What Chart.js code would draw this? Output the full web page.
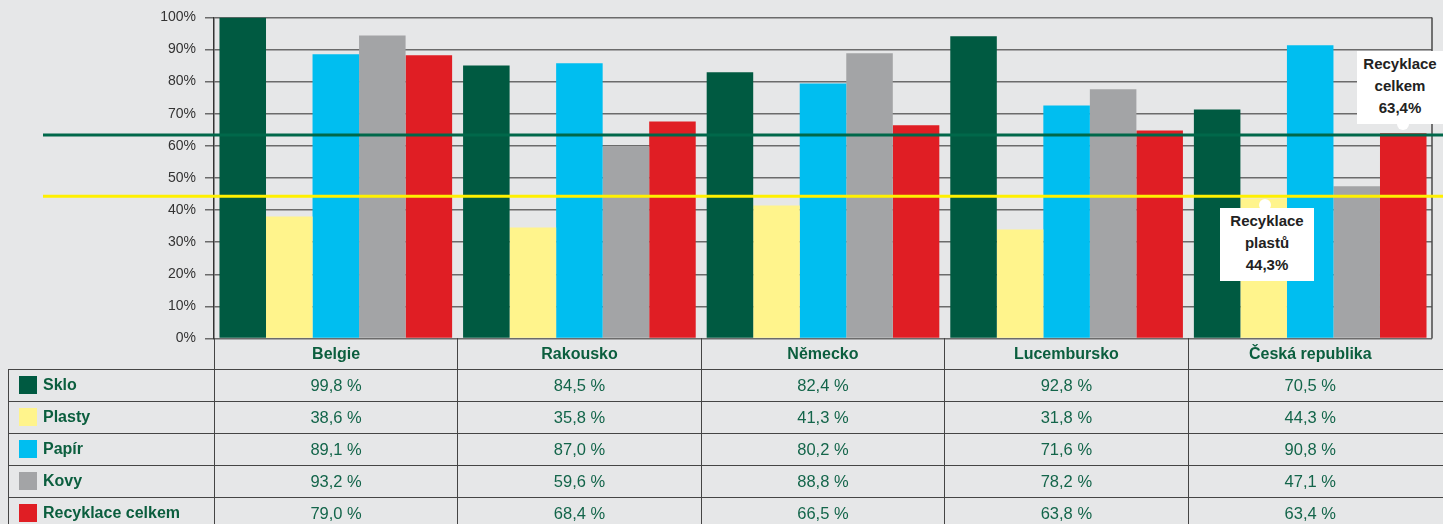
<!DOCTYPE html>
<html>
<head>
<meta charset="utf-8">
<script src="https://cdn.jsdelivr.net/npm/chart.js@4/dist/chart.umd.min.js"></script>
<style>
  html, body { margin: 0; padding: 0; background: #e6e7e8; width: 1443px; height: 524px; overflow: hidden; }
  body { position: relative; font-family: 'Liberation Sans', Arial, sans-serif; }
  #wrap { position: absolute; left: 0; top: 0; width: 1443px; height: 356px; }
  #tbl { position: absolute; left: 8px; top: 338px; border-collapse: collapse; table-layout: fixed; color: #13654a; font-size: 16.5px; }
  #tbl td { height: 31px; padding: 0; text-align: center; border: 1.5px solid #454545; }
  #tbl tr.head td { font-weight: bold; font-size: 16px; color: #0b5e3e; border-top: none; }
  #tbl tr.head td.blank { border: none; border-right: 1.5px solid #454545; }
  #tbl td.last { border-right: none; padding-right: 11px; }
  #tbl td.lab { text-align: left; font-weight: bold; font-size: 16px; color: #0b5e3e; padding-left: 10px; }
  .sw { display: inline-block; width: 18px; height: 18px; vertical-align: middle; margin-right: 6px; position: relative; top: -1px; }
  .note { position: absolute; background: #fff; color: #222; font-weight: bold; font-size: 15px; line-height: 22px; text-align: center; }
  .dot { position: absolute; width: 12px; height: 12px; border-radius: 6px; background: #fff; }
</style>
</head>
<body>
<div id="wrap"><canvas id="chart" width="1443" height="356"></canvas></div>
<table id="tbl"></table>
<div class="dot" style="left:1259px; top:199px;"></div>
<div class="note" style="left:1220px; top:208px; width:94px; height:71px; padding-top:2px;">Recyklace<br>plastů<br>44,3%</div>
<div class="dot" style="left:1397px; top:118px;"></div>
<div class="note" style="left:1357px; top:51px; width:86px; height:71px; padding-top:2px;">Recyklace<br>celkem<br>63,4%</div>
<script>
// categories (countries)
const countries = ['Belgie', 'Rakousko', 'Německo', 'Lucembursko', 'Česká republika'];

// bar heights as drawn in the picture (%)
const skloBars    = [100.0, 85.0, 82.9, 94.1, 71.3];
const plastyBars  = [38.0, 34.6, 41.4, 34.0, 43.6];
const papirBars   = [88.5, 85.7, 79.4, 72.6, 91.3];
const kovyBars    = [94.4, 59.8, 88.8, 77.6, 47.4];
const celkemBars  = [88.2, 67.6, 66.4, 64.8, 63.9];

// values printed in the table below the chart
const skloText   = ['99,8 %', '84,5 %', '82,4 %', '92,8 %', '70,5 %'];
const plastyText = ['38,6 %', '35,8 %', '41,3 %', '31,8 %', '44,3 %'];
const papirText  = ['89,1 %', '87,0 %', '80,2 %', '71,6 %', '90,8 %'];
const kovyText   = ['93,2 %', '59,6 %', '88,8 %', '78,2 %', '47,1 %'];
const celkemText = ['79,0 %', '68,4 %', '66,5 %', '63,8 %', '63,4 %'];

// y axis ticks
const yTicks = [0, 10, 20, 30, 40, 50, 60, 70, 80, 90, 100];

// reference lines (Czech republic averages)
const lineCelkem = 63.4;
const linePlasty = 44.3;

const series = [
    { label: 'Sklo', data: skloBars, text: skloText, color: '#005a41' },
    { label: 'Plasty', data: plastyBars, text: plastyText, color: '#fff48c' },
    { label: 'Papír', data: papirBars, text: papirText, color: '#00bef0' },
    { label: 'Kovy', data: kovyBars, text: kovyText, color: '#a3a4a6' },
    { label: 'Recyklace celkem', data: celkemBars, text: celkemText, color: '#e01e24' }
];

// build the table under the chart
function fnBuildTable(){
    const tbl = document.getElementById('tbl');
    let html = '<colgroup><col style="width:206px">';
    countries.forEach((c, i) => {
        html += '<col style="width:' + (i === countries.length - 1 ? 255 : 243.6) + 'px">';
    });
    html += '</colgroup>';
    html += '<tr class="head"><td class="blank"></td>';
    countries.forEach((c, i) => {
        html += '<td' + (i === countries.length - 1 ? ' class="last"' : '') + '>' + c + '</td>';
    });
    html += '</tr>';
    series.forEach(s => {
        html += '<tr><td class="lab"><span class="sw" style="background:' + s.color + '"></span>' + s.label + '</td>';
        s.text.forEach((t, i) => {
            html += '<td' + (i === s.text.length - 1 ? ' class="last"' : '') + '>' + t + '</td>';
        });
        html += '</tr>';
    });
    tbl.innerHTML = html;
}

// reference lines + right border
const refLines = {
    id: 'refLines',
    afterDatasetsDraw(chart) {
        const ctx = chart.ctx;
        const y = chart.scales.y;
        const a = chart.chartArea;
        ctx.save();
        ctx.strokeStyle = '#4a4a4a';
        ctx.lineWidth = 1.5;
        ctx.beginPath();
        ctx.moveTo(a.right, a.top);
        ctx.lineTo(a.right, a.bottom);
        ctx.stroke();
        ctx.lineWidth = 3;
        ctx.strokeStyle = '#00684a';
        ctx.beginPath();
        ctx.moveTo(43, y.getPixelForValue(lineCelkem));
        ctx.lineTo(chart.width, y.getPixelForValue(lineCelkem));
        ctx.stroke();
        ctx.strokeStyle = '#fff000';
        ctx.beginPath();
        ctx.moveTo(43, y.getPixelForValue(linePlasty));
        ctx.lineTo(chart.width, y.getPixelForValue(linePlasty));
        ctx.stroke();
        ctx.restore();
    }
};

function fnRecycleChart(){
    const ctx = document.getElementById('chart').getContext('2d');
    new Chart(ctx, {
        type: 'bar',
        data: {
            labels: countries,
            datasets: series.map(s => ({
                label: s.label,
                data: s.data,
                backgroundColor: s.color,
                borderWidth: 0,
                categoryPercentage: 0.955,
                barPercentage: 1.0
            }))
        },
        options: {
            responsive: false,
            animation: false,
            layout: { padding: { top: 17, right: 11, bottom: 2, left: 0 } },
            plugins: {
                legend: { display: false },
                tooltip: { enabled: false }
            },
            scales: {
                x: { display: false },
                y: {
                    min: 0,
                    max: 100,
                    afterFit: function(scale) { scale.width = 214; },
                    afterBuildTicks: function(scale) {
                        scale.ticks = yTicks.map(v => ({ value: v }));
                    },
                    ticks: {
                        padding: 9,
                        color: '#333',
                        font: { family: "'Liberation Sans', Arial", size: 14 },
                        callback: function(value) { return value + '%'; }
                    },
                    grid: { color: '#6b6b6b', lineWidth: 1.5, tickLength: 9 },
                    border: { color: '#333', width: 1.5 }
                }
            }
        },
        plugins: [refLines]
    });
}

fnBuildTable();
fnRecycleChart();
</script>
</body>
</html>
